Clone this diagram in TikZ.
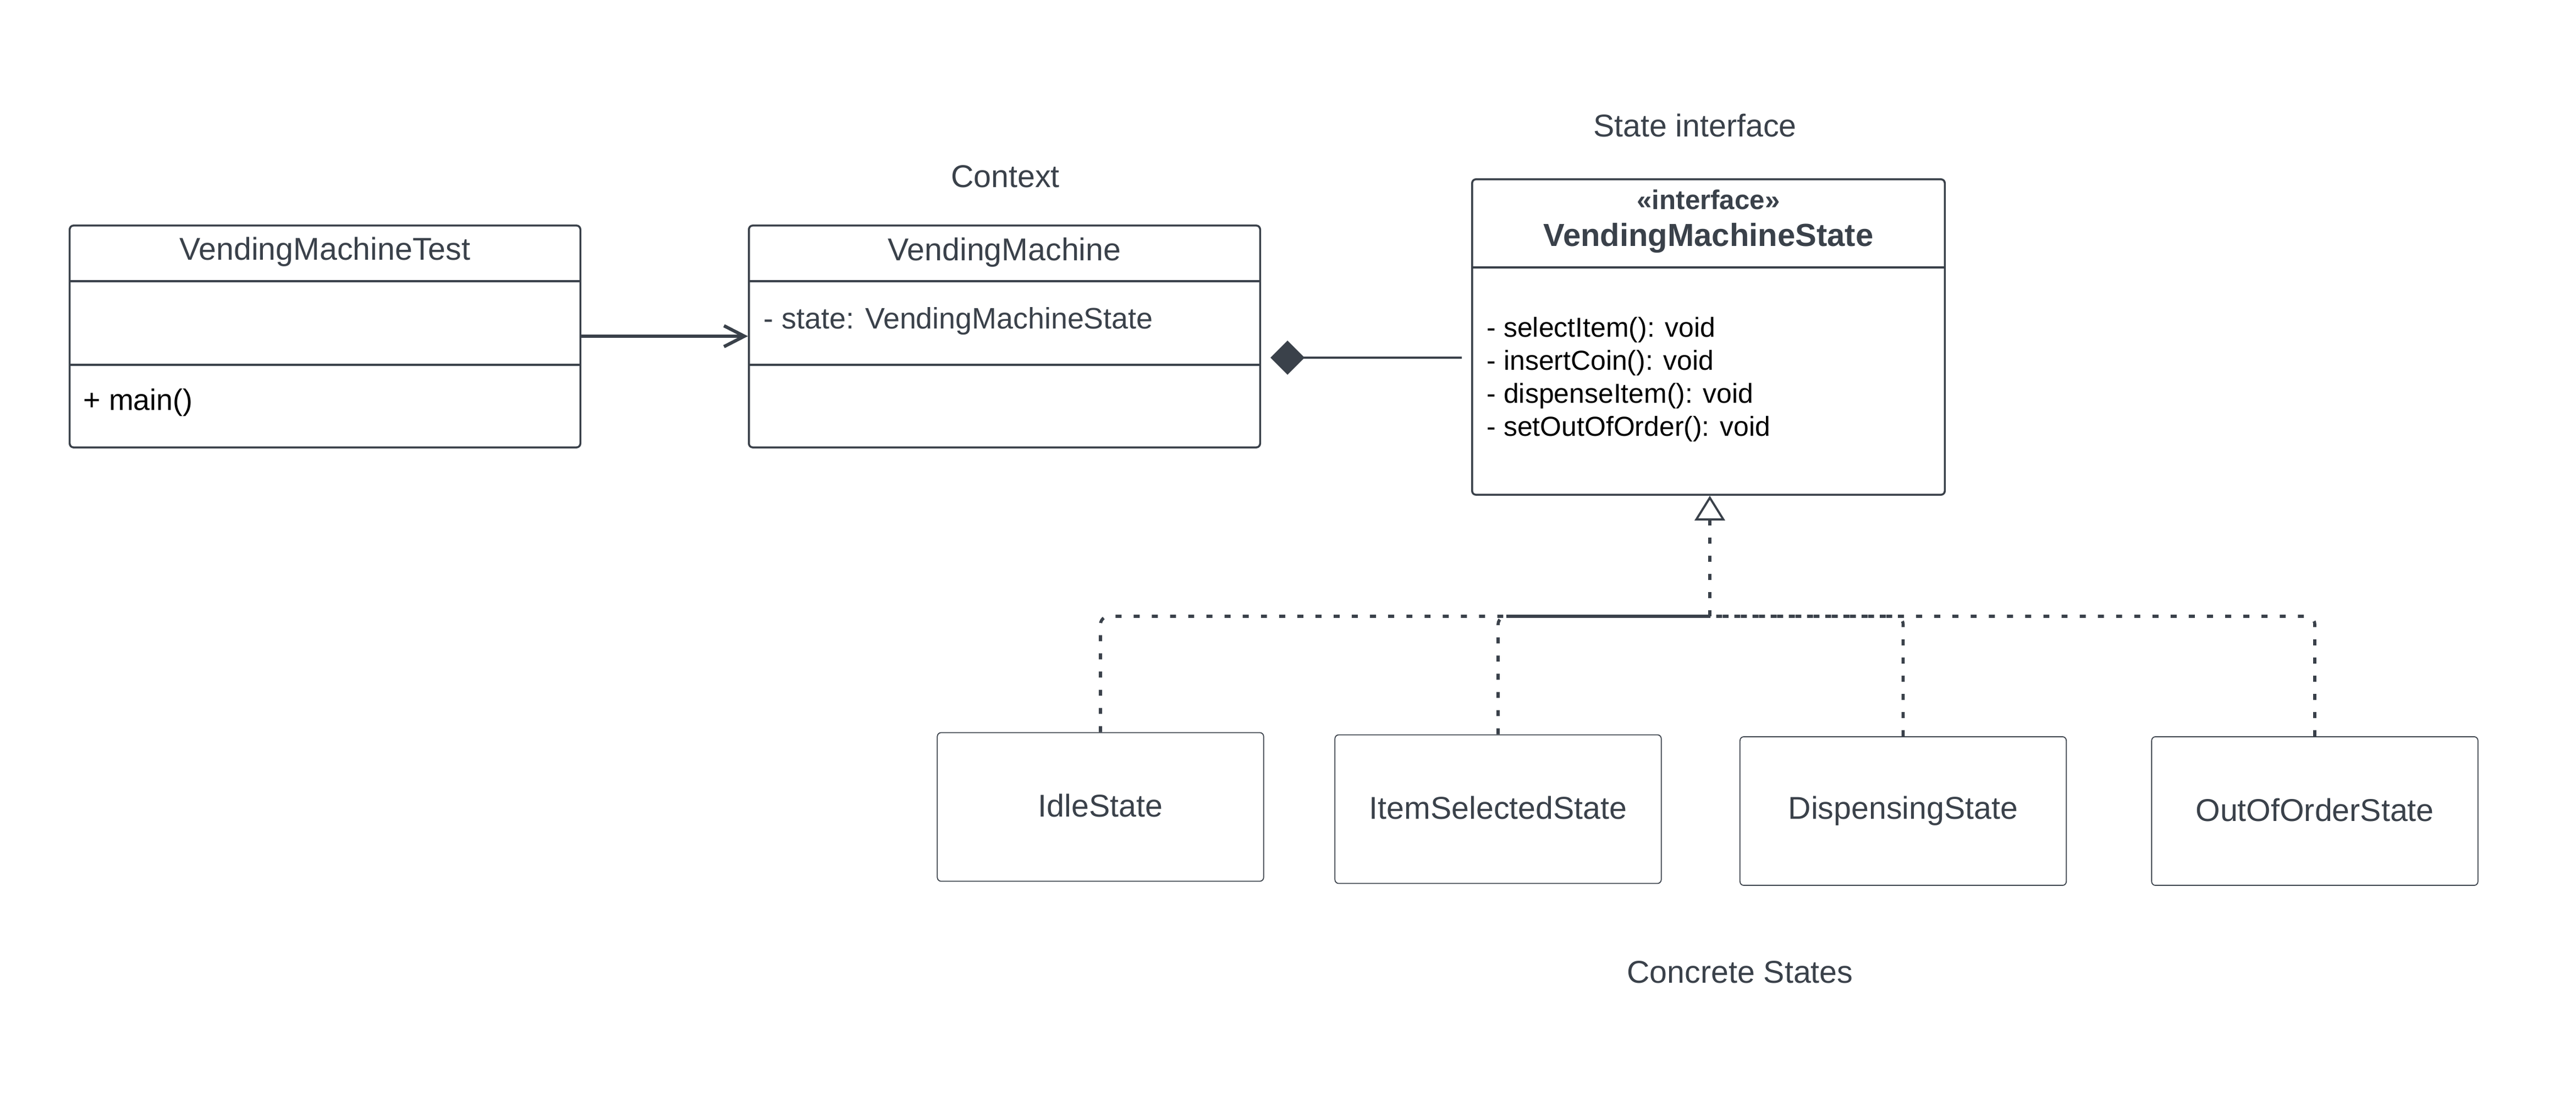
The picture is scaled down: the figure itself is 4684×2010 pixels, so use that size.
\documentclass[tikz,border=0pt]{standalone}
\usepackage{fontspec}
\setmainfont{Liberation Sans}
\usetikzlibrary{arrows.meta,positioning}
\definecolor{ink}{HTML}{3A414A}

\tikzset{
  classbox/.style={draw=ink, line width=1pt, rounded corners=2pt, inner sep=0pt},
  statebox/.style={draw=ink, line width=0.5pt, rounded corners=2pt, inner sep=0pt,
    minimum width=5.93cm, minimum height=2.7cm, text=ink, font=\fontsize{16.3}{19.6}\selectfont},
  title/.style={text=ink, inner sep=0pt, anchor=base, font=\fontsize{16.3}{19.6}\selectfont},
  member/.style={inner sep=0pt, anchor=base west, font=\fontsize{15.3}{18}\selectfont},
  method/.style={inner sep=0pt, anchor=base west, font=\fontsize{14.2}{17}\selectfont},
  divider/.style={draw=ink, line width=1pt},
  realize/.style={draw=ink, line width=1.6pt, dash pattern=on 3.1pt off 6.3pt, rounded corners=0.15cm},
}

\begin{document}
\begin{tikzpicture}[x=0.01cm, y=-0.01cm]
	\useasboundingbox (0,0) rectangle (4684,2010);

	\node[classbox, minimum width=9.28cm, minimum height=4.03cm] (test) at (591,611.5) {};
	\node[classbox, minimum width=9.29cm, minimum height=4.03cm] (vm) at (1826.5,611.5) {};
	\node[classbox, minimum width=8.59cm, minimum height=5.73cm] (vms) at (3106.5,612.5) {};

	\draw[divider] (test.west |- 0,511) -- (test.east |- 0,511);
	\draw[divider] (test.west |- 0,663) -- (test.east |- 0,663);
	\draw[divider] (vm.west |- 0,511) -- (vm.east |- 0,511);
	\draw[divider] (vm.west |- 0,663) -- (vm.east |- 0,663);
	\draw[divider] (vms.west |- 0,486) -- (vms.east |- 0,486);

	\node[title] (testname) at (591,473) {VendingMachineTest};
	\node[member] (main) at (151,746) {+ main()};
	\node[title] (context) at (1828,341) {Context};
	\node[title] (vmname) at (1826.5,474) {VendingMachine};
	\node[member, text=ink] (stateattr) at (1388,598) {- state: VendingMachineState};
	\node[title] (statelabel) at (3082,249) {State interface};
	\node[title, font=\bfseries\fontsize{14}{17}\selectfont] (stereo) at (3106.5,381) {«interface»};
	\node[title, font=\bfseries\fontsize{16.5}{19.8}\selectfont] (vmsname) at (3106.5,448) {VendingMachineState};
	\foreach \m/\txt [count=\i] in {613/selectItem(),673/insertCoin(),733/dispenseItem(),793/setOutOfOrder()}
		\node[method] (m\i) at (2703,\m) {- \txt: void};

	\node[statebox] (idle) at (2001,1466.5) {\raisebox{1.5pt}{IdleState}};
	\node[statebox] (item) at (2724,1470.5) {\raisebox{1.5pt}{ItemSelectedState}};
	\node[statebox] (disp) at (3460.5,1474) {\raisebox{1.5pt}{DispensingState}};
	\node[statebox] (ooo) at (4209,1474) {\raisebox{1.5pt}{OutOfOrderState}};
	\node[title] (concrete) at (3164,1786) {Concrete States};

	\draw[ink, line width=1.7pt, -{Straight Barb[length=0.37cm, width=0.38cm]}]
		(test.east |- 0,611) -- (vm.west |- 0,611);
	\draw[ink, line width=1.35pt, {Diamond[length=0.62cm, width=0.62cm]}-, shorten <=0.17cm, shorten >=0.17cm]
		(vm.east |- 0,650) -- (vms.west |- 0,650);

	\coordinate (bus) at (3109,1120);
	\draw[realize, -{Triangle[open, length=0.45cm, width=0.55cm, line width=1.1pt]}]
		(bus) -- (bus |- vms.south);
	\draw[realize] (idle.north) -- (idle.north |- bus) -- (bus);
	\draw[realize] (item.north) -- (item.north |- bus) -- (bus);
	\draw[ink, line width=1.7pt] (item.north |- bus) ++(15,0) -- (bus);
	\draw[realize] (disp.north) -- (disp.north |- bus) -- (bus);
	\draw[realize] (ooo.north) -- (ooo.north |- bus) -- (bus);
\end{tikzpicture}
\end{document}
